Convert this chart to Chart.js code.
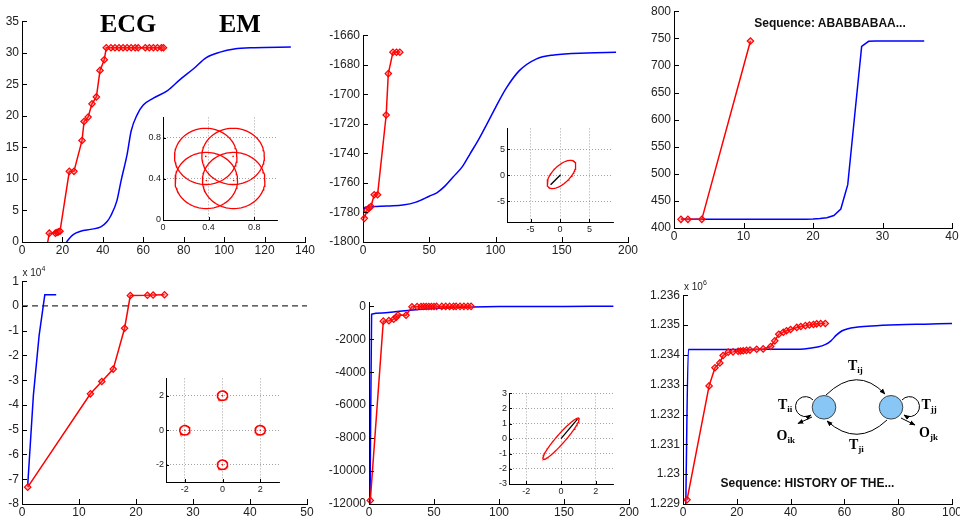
<!DOCTYPE html>
<html>
<head>
<meta charset="utf-8">
<script src="https://cdn.jsdelivr.net/npm/chart.js@4.4.1/dist/chart.umd.min.js"></script>
<style>
  html, body { margin: 0; padding: 0; background: #fff; }
  #page { position: relative; width: 960px; height: 521px; overflow: hidden; }
  #page canvas { position: absolute; }
  #overlay { position: absolute; left: 0; top: 0; }
</style>
</head>
<body>
<div id="page">
<svg id="overlay" width="960" height="521" viewBox="0 0 960 521">
  <defs>
    <marker id="ah" viewBox="0 0 10 10" refX="9" refY="5" markerWidth="6" markerHeight="6" orient="auto">
      <path d="M0,1 L10,5 L0,9 z" fill="#000"/>
    </marker>
  </defs>
  <g font-family="Liberation Serif, Times New Roman, serif" font-weight="bold" fill="#000">
    <text x="100" y="31.5" font-size="26">ECG</text>
    <text x="219" y="31.5" font-size="26">EM</text>
  </g>
  <g font-family="Liberation Sans, Arial, sans-serif" font-weight="bold" font-size="12" fill="#111" text-anchor="middle">
    <text x="830" y="27">Sequence: ABABBABAA...</text>
    <text x="807.5" y="486.5">Sequence: HISTORY OF THE...</text>
  </g>
  <g font-family="Liberation Sans, Arial, sans-serif" font-size="10" fill="#222">
    <text x="22.5" y="276">x 10<tspan font-size="7" dy="-5">4</tspan></text>
    <text x="684" y="289.5">x 10<tspan font-size="7" dy="-5">6</tspan></text>
  </g>
  <!-- two-state HMM sketch -->
  <g fill="none" stroke="#000" stroke-width="1">
    <path d="M826,395 Q857,365 885,394" marker-end="url(#ah)"/>
    <path d="M887,420 Q857,448 827,421" marker-end="url(#ah)"/>
    <path d="M813,400 A10,10 0 1,0 811,415" marker-end="url(#ah)"/>
    <path d="M902,400 A10,10 0 1,1 904,415" marker-end="url(#ah)"/>
    <path d="M812,417 L798,423.5" marker-end="url(#ah)"/>
    <path d="M901,418 L915,425" marker-end="url(#ah)"/>
  </g>
  <circle cx="824" cy="407.3" r="11.8" fill="#87c6f5" stroke="#333" stroke-width="0.9"/>
  <circle cx="891" cy="407.3" r="11.8" fill="#87c6f5" stroke="#333" stroke-width="0.9"/>
  <g font-family="Liberation Serif, Times New Roman, serif" font-weight="bold" font-size="14" fill="#000">
    <text x="848" y="370">T<tspan font-size="9" dy="3">ij</tspan></text>
    <text x="778" y="409">T<tspan font-size="9" dy="3">ii</tspan></text>
    <text x="921.5" y="409">T<tspan font-size="9" dy="3">jj</tspan></text>
    <text x="776.5" y="440">O<tspan font-size="9" dy="3">ik</tspan></text>
    <text x="919" y="436.5">O<tspan font-size="9" dy="3">jk</tspan></text>
    <text x="849" y="449">T<tspan font-size="9" dy="3">ji</tspan></text>
  </g>
</svg>
</div>
<script>
// values (red = ECG with markers, blue = EM)

// panel 1
const p1EcgX = [12.3, 13.5, 16.5, 17.3, 18.0, 18.8, 23.4, 25.7, 29.7, 30.7, 32.7, 34.6, 36.8, 38.6, 40.7, 41.7,
                44, 46, 48, 50, 52, 54, 56, 57.5, 61, 63, 65, 67, 69, 70];
const p1EcgY = [-0.8, 1.4, 1.4, 1.5, 1.6, 1.7, 11.2, 11.2, 16.1, 19.1, 19.8, 21.9, 23.0, 27.2, 28.9, 30.8,
                30.8, 30.8, 30.8, 30.8, 30.8, 30.8, 30.8, 30.8, 30.8, 30.8, 30.8, 30.8, 30.8, 30.8];
const p1EmX = [22, 25, 29, 34, 39, 42, 44, 47, 49, 52, 54, 57, 60, 65, 72, 78, 85, 91, 98, 105, 115, 133];
const p1EmY = [0, 1.1, 1.7, 2.0, 2.4, 3.2, 4.2, 6.6, 9.7, 13.9, 17.6, 20.2, 21.7, 22.8, 24.0, 25.7, 27.5, 29.2, 30.1, 30.6, 30.8, 30.9];
const p1XTicks = [0, 20, 40, 60, 80, 100, 120, 140];
const p1YTicks = [0, 5, 10, 15, 20, 25, 30, 35];

// panel 2
const p2EcgX = [1, 3, 4.5, 6, 8.5, 11, 17.5, 19.1, 22.6, 25.3, 27.8];
const p2EcgY = [-1784, -1778.5, -1777, -1776, -1768, -1768, -1714, -1686, -1671.5, -1671.5, -1671.5];
const p2EmX = [0, 1.5, 10, 20, 30, 40, 50, 56, 62, 68, 75, 81, 87, 93, 100, 108, 118, 131, 144, 169, 191];
const p2EmY = [-1782, -1776.5, -1776, -1775.6, -1775, -1773, -1769, -1766.5, -1762, -1756, -1749, -1740,
               -1731, -1721, -1709, -1696, -1684, -1676, -1673.4, -1672, -1671.6];
const p2XTicks = [0, 50, 100, 150, 200];
const p2YTicks = [-1800, -1780, -1760, -1740, -1720, -1700, -1680, -1660];

// panel 3
const p3EcgX = [1, 2, 4, 11];
const p3EcgY = [416, 416, 416, 745];
const p3EmX = [1, 2, 3, 4, 5, 6, 7, 8, 9, 10, 11, 12, 13, 14, 15, 16, 17, 18, 19, 20,
               21, 22, 23, 24, 25, 26, 27, 28, 29, 30, 31, 32, 33, 34, 35, 36];
const p3EmY = [416, 416, 416, 416, 416, 416, 416, 416, 416, 416, 416, 416, 416, 416, 416, 416, 416, 416, 416, 416.5,
               417.5, 419, 423, 435, 480, 608, 735, 744.5, 745, 745, 745, 745, 745, 745, 745, 745];
const p3XTicks = [0, 10, 20, 30, 40];
const p3YTicks = [400, 450, 500, 550, 600, 650, 700, 750, 800];

// panel 4 (values in raw units, axis shows x 10^4)
const p4EcgX = [1, 12, 14, 16, 18, 19, 22, 23, 25];
const p4EcgY = [-73200, -35500, -30500, -25500, -9000, 4200, 4300, 4400, 4500];
const p4EmX = [1, 2, 3, 4, 5, 6];
const p4EmY = [-72500, -36000, -12000, 4500, 4500, 4500];
const p4ZeroX = [0, 50];
const p4ZeroY = [0, 0];
const p4XTicks = [0, 10, 20, 30, 40, 50];
const p4YTicks = [-80000, -70000, -60000, -50000, -40000, -30000, -20000, -10000, 0, 10000];

// panel 5
const p5EcgX = [1, 11, 15.3, 19, 21, 22.3, 28.5, 33, 37, 40, 42, 44, 46, 48, 50, 52, 56, 59, 62, 65, 67, 70, 73, 76, 78.5];
const p5EcgY = [-11780, -900, -870, -780, -660, -530, -540, -30, -20, -15, -12, -10, -9, -8, -7, -6, -5, -5, -4, -4, -3, -3, -3, -2, -2];
const p5EmX = [0.8, 2, 10, 20, 30, 40, 50, 60, 70, 80, 100, 120, 150, 188];
const p5EmY = [-12300, -480, -410, -330, -250, -180, -120, -80, -50, -35, -18, -10, -5, 0];
const p5XTicks = [0, 50, 100, 150, 200];
const p5YTicks = [-12000, -10000, -8000, -6000, -4000, -2000, 0];

// panel 6 (raw units, axis shows x 10^6)
const p6EcgX = [1.5, 9.7, 11.9, 13.7, 14.9, 16.8, 18.6, 20.5, 21.4, 22.4, 23.6, 24.9, 27.4, 29.8,
                32.6, 34.1, 35.6, 37.3, 38.5, 40, 42.3, 43.8, 45.5, 47, 48.5, 49.7, 51.2, 52.9];
const p6EcgY = [1229140, 1232960, 1233570, 1233730, 1233980, 1234090, 1234100, 1234120, 1234130, 1234140,
                1234150, 1234160, 1234190, 1234200, 1234280, 1234470, 1234690, 1234760, 1234810, 1234850,
                1234920, 1234950, 1234980, 1235000, 1235020, 1235040, 1235050, 1235050];
const p6EmX = [1, 2, 10, 20, 30, 40, 45, 50, 53, 55, 57, 59, 61, 65, 70, 80, 90, 100];
const p6EmY = [1228800, 1234180, 1234180, 1234180, 1234185, 1234190, 1234200, 1234260, 1234350, 1234470,
               1234660, 1234800, 1234870, 1234930, 1234970, 1235010, 1235030, 1235050];
const p6XTicks = [0, 20, 40, 60, 80, 100];
const p6YTicks = [1229000, 1230000, 1231000, 1232000, 1233000, 1234000, 1235000, 1236000];

// insets: fitted components
const i1CenterX = [0.375, 0.615, 0.38, 0.62];
const i1CenterY = [0.62, 0.62, 0.385, 0.385];
const i1Radius = 0.274;
const i1Ticks = [0, 0.4, 0.8];

const i2Ellipse = [0.25, 0.15, 3.3, 1.55, 50];   // cx, cy, semi-major, semi-minor, angle
const i2LineX = [-1.6, 0.1];
const i2LineY = [-1.85, 0.1];
const i2Ticks = [-5, 0, 5];

const i4CenterX = [-2, 0, 2, 0];
const i4CenterY = [0, 2, 0, -2];
const i4Radius = 0.27;
const i4Ticks = [-2, 0, 2];

const i5Ellipse = [0, 0, 1.7, 0.27, 53];
const i5LineX = [0, 0.95];
const i5LineY = [0, 1.3];
const i5XTicks = [-2, 0, 2];
const i5YTicks = [-3, -2, -1, 0, 1, 2, 3];


const FONT = '"Liberation Sans", Arial, Helvetica, sans-serif';
const RED = '#ff0000';
const BLUE = '#0000ff';
const page = document.getElementById('page');
Chart.defaults.font.family = FONT;

// matlab-style ticks pointing into the plot
const inwardTicks = {
    id: 'inwardTicks',
    defaults: { len: 5 },
    afterDatasetsDraw(chart, args, opts) {
        const { ctx, chartArea: a, scales: { x, y } } = chart;
        ctx.save();
        ctx.strokeStyle = '#000';
        ctx.lineWidth = 1;
        ctx.beginPath();
        x.ticks.forEach(t => {
            const px = Math.round(x.getPixelForValue(t.value)) + 0.5;
            ctx.moveTo(px, a.bottom);
            ctx.lineTo(px, a.bottom - opts.len);
        });
        y.ticks.forEach(t => {
            const py = Math.round(y.getPixelForValue(t.value)) + 0.5;
            ctx.moveTo(a.left, py);
            ctx.lineTo(a.left + opts.len, py);
        });
        ctx.stroke();
        ctx.restore();
    }
};
Chart.register(inwardTicks);

const pts = (xs, ys) => xs.map((x, i) => ({ x, y: ys[i] }));

function ecg(xs, ys, clip) {
    return {
        data: pts(xs, ys), showLine: true, borderColor: RED, borderWidth: 1.5,
        pointStyle: 'rectRot', pointRadius: 3.2, pointBorderWidth: 1.2,
        pointBorderColor: RED, pointBackgroundColor: 'rgba(255,70,70,0.35)',
        clip: clip
    };
}

function em(xs, ys, smooth) {
    return {
        data: pts(xs, ys), showLine: true, borderColor: BLUE, borderWidth: 1.5, pointRadius: 0,
        cubicInterpolationMode: smooth ? 'monotone' : 'default', tension: 0
    };
}

function ellipse(cx, cy, a, b, deg) {
    const t = deg * Math.PI / 180;
    const out = [];
    for (let k = 0; k <= 90; k++) {
        const u = k / 90 * 2 * Math.PI;
        out.push({
            x: cx + a * Math.cos(u) * Math.cos(t) - b * Math.sin(u) * Math.sin(t),
            y: cy + a * Math.cos(u) * Math.sin(t) + b * Math.sin(u) * Math.cos(t)
        });
    }
    return out;
}

function outline(points, color, width) {
    return { data: points, showLine: true, borderColor: color, borderWidth: width || 1.3, pointRadius: 0, tension: 0 };
}

function dots(xs, ys) {
    return { data: pts(xs, ys), showLine: false, pointRadius: 0.8, pointBorderWidth: 0, pointBackgroundColor: RED };
}

// box = plot area on the page [left, top, right, bottom]; pad = room for labels [left, top, right, bottom]
function plot(box, pad, xr, yr, xTicks, yTicks, datasets, o) {
    o = o || {};
    const [l, t, r, b] = box;
    const [pl, pt, pr, pb] = pad;
    const cv = document.createElement('canvas');
    cv.width = r - l + pl + pr;
    cv.height = b - t + pt + pb;
    cv.style.left = (l - pl) + 'px';
    cv.style.top = (t - pt) + 'px';
    cv.style.width = cv.width + 'px';
    cv.style.height = cv.height + 'px';
    page.insertBefore(cv, document.getElementById('overlay'));

    const fmtX = o.fmtX || (v => String(+v.toFixed(4)));
    const fmtY = o.fmtY || (v => String(+v.toFixed(4)));
    const axis = (min, max, ticks, isX) => ({
        type: 'linear', min: min, max: max,
        afterBuildTicks: s => { s.ticks = ticks.map(v => ({ value: v })); },
        afterFit: s => { if (isX) s.height = pb; else s.width = pl; },
        grid: o.grid ? { color: '#8c8c8c', lineWidth: 0.8, drawTicks: false } : { display: false, drawTicks: false },
        border: { display: true, color: '#000', width: 1, dash: o.grid ? [1, 2] : [] },
        ticks: {
            padding: isX ? (o.padX || 1) : (o.padY || 3), color: '#222',
            font: { family: FONT, size: o.font || 12 },
            maxRotation: 0, autoSkip: false,
            callback: isX ? fmtX : fmtY
        }
    });

    return new Chart(cv, {
        type: 'scatter',
        data: { datasets: datasets },
        options: {
            responsive: false, animation: false, devicePixelRatio: 1,
            layout: { padding: { left: 0, top: pt, right: pr, bottom: 0 } },
            plugins: { legend: { display: false }, tooltip: { enabled: false }, inwardTicks: { len: o.tickLen || 5 } },
            scales: { x: axis(xr[0], xr[1], xTicks, true), y: axis(yr[0], yr[1], yTicks, false) }
        }
    });
}

const MAIN = [60, 8, 14, 22];
const INSET = [30, 6, 8, 16];
const insetOpts = { font: 9, grid: true, tickLen: 3, padX: 2, padY: 2 };

// top row
plot([22, 19, 305, 242], MAIN, [0, 140], [0, 35], p1XTicks, p1YTicks,
     [ecg(p1EcgX, p1EcgY), em(p1EmX, p1EmY, true)]);
plot([363, 33, 628, 242], MAIN, [0, 200], [-1800, -1660], p2XTicks, p2YTicks,
     [ecg(p2EcgX, p2EcgY, 5), em(p2EmX, p2EmY, true)]);
plot([674, 9, 952, 228], MAIN, [0, 40], [400, 800], p3XTicks, p3YTicks,
     [ecg(p3EcgX, p3EcgY, 5), em(p3EmX, p3EmY, false)]);

// bottom row
plot([22, 279, 307, 504], MAIN, [0, 50], [-80000, 10000], p4XTicks, p4YTicks,
     [ecg(p4EcgX, p4EcgY, 5), em(p4EmX, p4EmY, false),
      { data: pts(p4ZeroX, p4ZeroY), showLine: true, borderColor: '#333', borderWidth: 1.2, borderDash: [6, 4], pointRadius: 0 }],
     { fmtY: v => String(v / 10000) });
plot([369, 300, 629, 504], MAIN, [0, 200], [-12000, 250], p5XTicks, p5YTicks,
     [ecg(p5EcgX, p5EcgY, 5), em(p5EmX, p5EmY, true)]);
plot([683, 293, 952, 504], MAIN, [0, 100], [1229000, 1236000], p6XTicks, p6YTicks,
     [ecg(p6EcgX, p6EcgY, 5), em(p6EmX, p6EmY, true)],
     { fmtY: v => String(+(v / 1e6).toFixed(3)) });

// insets
plot([163, 116, 277, 220], INSET, [0, 1], [0, 1], i1Ticks, i1Ticks,
     i1CenterX.map((cx, k) => outline(ellipse(cx, i1CenterY[k], i1Radius, i1Radius, 0), RED, 1.3))
        .concat([dots(i1CenterX, i1CenterY)]), insetOpts);
plot([507, 127, 613, 222], INSET, [-9, 9], [-9, 9], i2Ticks, i2Ticks,
     [outline(pts(i2LineX, i2LineY), '#000', 1.3), outline(ellipse(...i2Ellipse), RED, 1.3)], insetOpts);
plot([166, 377, 279, 482], INSET, [-3, 3], [-3, 3], i4Ticks, i4Ticks,
     i4CenterX.map((cx, k) => outline(ellipse(cx, i4CenterY[k], i4Radius, i4Radius, 0), RED, 1.5))
        .concat([dots(i4CenterX, i4CenterY)]), insetOpts);
plot([509, 392, 613, 484], INSET, [-3, 3], [-3, 3], i5XTicks, i5YTicks,
     [outline(pts(i5LineX, i5LineY), '#000', 1.3), outline(ellipse(...i5Ellipse), RED, 1.3)], insetOpts);
</script>
</body>
</html>
